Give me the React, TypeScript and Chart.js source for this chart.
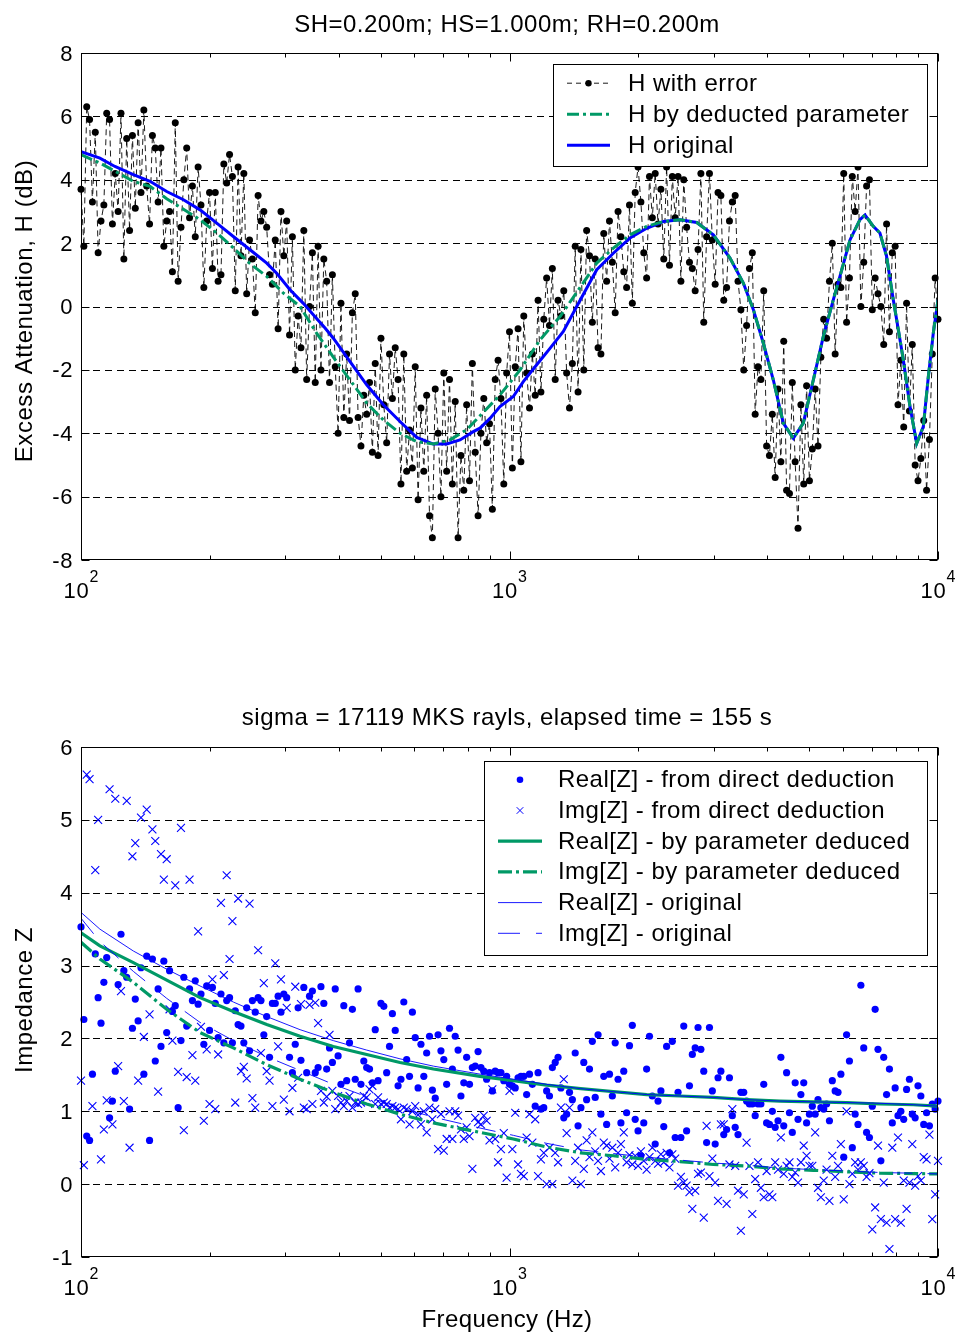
import React, { useEffect, useRef } from 'react';
import { Chart, registerables } from 'chart.js';

Chart.register(...registerables);

// ---------------- DATA ----------------
// Top panel: excess attenuation H (dB) vs frequency
const TOP_Y_TICKS = [-8, -6, -4, -2, 0, 2, 4, 6, 8];
const X_DECADES = [2, 3, 4];

const H_WITH_ERROR = [
  3.7, 1.9, 6.3, 5.9, 3.3, 5.5, 1.7, 2.7, 3.2, 6.1, 5.9, 2.6, 4.2, 3.0, 6.1, 1.5, 5.3, 2.4, 5.4, 3.1, 5.8, 3.6, 6.2, 3.8,
  2.6, 5.4, 5.0, 3.3, 5.0, 1.9, 2.7, 3.0, 1.1, 5.8, 0.8,
  2.5, 4.0, 5.0, 2.8, 3.8, 2.2, 4.4, 3.2, 0.6, 2.7, 3.6,
  1.2, 3.6, 0.8, 1.0, 4.5, 3.9, 4.8, 4.1, 0.5, 4.4,
  1.6, 4.2, 0.4, 2.1, 1.5, -0.2, 3.5, 2.7, 3.0, 2.5, 1.0,
  0.7, 2.1, -0.7, 3.0, 1.6, 2.7, -0.9, 2.2, -2.0, -0.3,
  -1.3, 2.4, -2.3, 0.0, 1.7, -2.4, 1.9, -2.0, 1.5, 0.8, -2.4,
  1.0, -1.9, -4.0, 0.1, -3.5, -1.5, -3.6, -0.2, 0.4, -3.5,
  -4.4, -2.8, -3.4, -2.4, -4.6, -1.8, -4.7, -1.0, -3.1, -4.3, -1.5,
  -2.9, -1.3, -2.3, -5.6, -1.5, -5.2, -3.9, -5.1, -1.9, -6.1,
  -3.2, -5.2, -2.8, -6.6, -7.3, -2.6, -4.0, -6.0, -2.1, -5.2, -2.3,
  -5.6, -3.0, -7.3, -4.7, -5.8, -3.1, -5.5, -1.8, -4.6, -6.6,
  -4.0, -2.9, -4.3, -3.7, -6.4, -2.3, -1.7, -2.9, -5.6, -2.1, -0.8,
  -5.1, -1.9, -0.7, -4.9, -0.3, -2.1, -3.2, -1.5, -2.8, 0.2,
  -2.7, -0.4, 0.9, -0.6, 1.2, -2.3, 0.2, -0.3, 0.5, -2.1, -3.2,
  -1.8, 1.9, -2.7, 1.8, -2.0, 2.4, 1.6, -0.5, 1.5, -1.3,
  -1.5, 2.3, 0.8, 2.7, 1.4, -0.2, 3.0, 2.2, 1.1, 0.6, 3.2,
  0.1, 3.6, 4.4, 3.3, 1.7, 0.9, 4.1, 2.8, 4.2, 2.6,
  3.7, 1.5, 4.4, 1.3, 4.1, 2.8, 4.1, 0.8, 4.0, 2.5, 1.4,
  1.2, 0.5, 1.8, 4.2, -0.5, 2.2, 4.2, 2.1, 0.7, 3.6,
  3.5, 0.2, 0.6, 2.7, 3.3, 3.5, 0.8, -0.1, -2.0, -0.6, 1.2,
  1.7, -3.4, -1.9, -2.3, 0.5, -4.4, -4.7, -3.4, -5.4, -2.6,
  -4.9, -1.1, -5.8, -5.9, -2.4, -4.9, -7.0, -3.1, -5.6, -2.5, -5.5,
  -4.5, -2.6, -4.4, -1.6, -0.4, -1.0, 0.8, 2.0, -1.5, 0.7,
  0.6, 4.2, -0.5, 0.9, 4.1, 3.0, 4.4, 0.0, 1.4, 3.8, 4.0,
  -0.1, 0.9, 0.4, 0.0, -1.2, 2.6, -0.8, 1.7, 1.9, -3.1,
  -1.7, -3.8, 0.1, -3.3, -1.2, -5.0, -5.5, -4.8, -3.6, -5.8, -4.2,
  -1.5, 0.9, -0.4,
];

const H_ORIG_F = [
  100, 110.7, 120, 132.5, 144.9, 158.5, 173.4, 189.6, 207.4, 226.7, 248, 271.3, 286.2, 307.4, 330.2, 351.7, 371.1,
  388, 424.5, 464.2, 507.6, 555.2, 607.4, 664.2, 713.6, 766.4, 823.2, 853.4, 900.5, 950.2, 1020.7, 1077, 1157.5,
  1243, 1335.5, 1435, 1598, 1747, 1911, 2090, 2286, 2500, 2735, 2991, 3270, 3513, 3708, 3912, 4128, 4355, 4596,
  4849, 5117, 5399, 5697, 5904, 6232, 6575, 6755, 7063, 7319, 7586, 7864, 8008, 8299, 8603, 8919, 9242, 9494, 9750, 10000,
];
const H_ORIG = [
  4.89, 4.68, 4.42, 4.16, 3.95, 3.63, 3.37, 3.05, 2.63, 2.21, 1.79, 1.37, 1.05, 0.53, 0.1, -0.32, -0.68,
  -1.0, -1.74, -2.47, -3.1, -3.63, -4.13, -4.34, -4.34, -4.21, -3.95, -3.84, -3.53, -3.16, -2.84, -2.37, -1.84,
  -1.32, -0.79, 0.0, 1.16, 1.68, 2.16, 2.47, 2.68, 2.74, 2.65, 2.26, 1.53, 0.74, -0.1, -1.16, -2.32, -3.68, -4.16,
  -3.68, -2.32, -0.95, 0.21, 0.95, 2.1, 2.74, 2.89, 2.53, 2.32, 1.58, 0.21, -0.42, -1.68, -3.16, -4.32, -3.79, -2.21, -0.84, 0.21,
];

const H_DEDUCED_F = [
  100, 110.7, 132.5, 144.9, 158.5, 173.4, 189.6, 207.4, 226.7, 248, 271.3, 296.8, 324.5, 355, 388, 424.5, 464.2,
  507.6, 555.2, 607.4, 664.2, 726.2, 794.3, 853.4, 950.2, 1059, 1179, 1315, 1466, 1598, 1747, 1911, 2090, 2286, 2500,
  2735, 2991, 3270, 3513, 3708, 3912, 4128, 4355, 4596, 4849, 5117, 5399, 5697, 5904, 6232, 6575, 6755, 7063, 7319,
  7586, 7864, 8008, 8299, 8603, 8919, 9242, 9494, 9750, 10000,
];
const H_DEDUCED = [
  4.79, 4.53, 3.95, 3.79, 3.4, 3.07, 2.74, 2.32, 1.85, 1.35, 0.95, 0.42, 0.0, -0.85, -1.6, -2.32, -3.05,
  -3.58, -4.0, -4.26, -4.34, -4.21, -3.89, -3.45, -2.79, -2.0, -1.05, -0.3, 0.63, 1.37, 1.84, 2.26, 2.53, 2.68, 2.74,
  2.65, 2.26, 1.53, 0.74, -0.1, -1.16, -2.32, -3.68, -4.16, -3.68, -2.32, -0.95, 0.21, 0.95, 2.1, 2.74, 2.89, 2.53, 2.32,
  1.58, 0.21, -0.42, -1.68, -3.16, -4.32, -3.79, -2.21, -0.84, 0.21,
];

// Bottom panel: impedance Z vs frequency
const BOTTOM_Y_TICKS = [-1, 0, 1, 2, 3, 4, 5, 6];

const Z_REAL_DIRECT = [
  3.53, 2.26, 0.66, 0.6, 1.51, 3.16, 2.56, 2.21, 2.77, 3.11, 0.91, 1.14, 1.55, 2.74, 3.43, 2.93, 2.84, 1.03, 2.14, 2.54, 2.24, 2.97, 1.51, 3.13,
  0.6, 3.09, 1.69, 2.68, 1.89, 3.06, 2.08, 2.93, 2.37, 2.45, 1.05,
  1.97, 2.84, 2.17, 2.68, 2.52, 2.79, 2.47, 2.61, 1.92, 2.72, 2.11,
  2.7, 2.48, 2.01, 2.61, 1.94, 2.52, 2.56, 1.94, 2.38, 2.19,
  2.17, 1.94, 2.42, 1.83, 2.52, 2.36, 2.56, 2.52, 2.05, 2.3, 1.74,
  2.48, 2.48, 2.58, 2.36, 2.61, 2.56, 1.74, 1.53, 1.92, 2.42,
  1.7, 2.7, 1.53, 2.58, 2.65, 1.53, 1.6, 2.71, 2.48, 1.58, 1.87,
  1.67, 2.68, 1.76, 1.37, 2.45, 1.42, 1.94, 2.4, 1.44, 2.68,
  1.37, 1.69, 1.6, 1.58, 1.39, 2.12, 1.42, 2.48, 2.44, 1.53, 1.89,
  2.34, 2.11, 1.35, 1.44, 2.5, 1.71, 1.48, 2.36, 2.01, 1.32,
  1.92, 1.48, 1.8, 2.03, 1.29, 1.18, 2.05, 1.83, 1.71, 1.37, 2.14,
  1.58, 2.03, 1.84, 1.21, 1.39, 1.74, 1.37, 1.6, 1.62, 1.82,
  1.6, 1.55, 1.44, 1.53, 1.28, 1.55, 1.53, 1.53, 1.42, 1.48, 1.37,
  1.35, 1.32, 1.46, 1.48, 1.48, 1.23, 1.51, 1.37, 1.07, 1.53,
  1.03, 1.05, 1.28, 1.21, 1.6, 1.67, 1.74, 1.32, 0.91, 0.96, 1.26,
  1.16, 1.8, 0.8, 1.05, 1.67, 1.16, 1.58, 1.96, 1.19, 2.05,
  0.96, 1.48, 0.82, 1.51, 1.21, 1.94, 1.44, 0.84, 1.55, 0.98, 1.9,
  2.18, 0.89, 0.73, 0.39, 0.84, 1.58, 2.03, 1.21, 0.55, 1.14,
  1.28, 0.79, 1.89, 0.43, 1.96, 0.64, 1.26, 0.64, 2.17, 0.73, 1.35,
  1.78, 1.87, 2.15, 1.85, 1.55, 0.57, 2.15, 1.28, 0.55, 1.46,
  1.55, 0.68, 0.75, 1.46, 0.94, 0.78, 0.68, 1.26, 1.26, 1.14, 1.1,
  1.1, 0.94, 1.1, 1.1, 1.37, 0.84, 0.82, 1.0, 0.78, 0.87,
  1.74, 0.8, 1.53, 0.98, 0.71, 1.39, 0.89, 1.23, 1.39, 0.84, 0.96,
  1.07, 0.96, 1.16, 1.05, 1.03, 1.1, 0.87, 1.42, 1.28, 1.26,
  1.51, 0.37, 2.05, 1.69, 0.5, 0.96, 0.82, 2.73, 1.87, 0.71, 0.64,
  1.07, 2.4, 1.85, 0.32, 1.74, 1.23, 1.58, 0.84, 1.32, 0.94,
  1.0, 0.89, 1.3, 1.44, 0.96, 0.91, 1.35, 1.21, 0.82, 0.98, 0.8,
  1.1, 1.03, 1.14,
];

const Z_IMG_DIRECT = [
  1.42, 0.26, 5.62, 5.56, 1.07, 4.31, 5.0, 0.34, 0.75, 1.15, 5.42, 0.82, 5.29, 1.62, 2.65, 1.14, 5.26, 0.5, 4.5, 4.68, 1.42, 5.03, 2.02, 5.14,
  2.33, 4.87, 4.71, 1.27, 4.53, 4.18, 4.46, 2.4, 1.97, 4.1, 1.54,
  4.89, 0.74, 1.47, 4.18, 1.77, 1.42, 3.47, 2.16, 0.87, 1.85, 1.1,
  2.81, 1.03, 1.78, 3.86, 2.87, 4.24, 3.09, 3.61, 1.12, 3.92,
  1.55, 1.61, 1.45, 3.85, 1.18, 1.05, 3.21, 1.8, 2.76, 1.55, 1.42,
  1.07, 3.03, 1.89, 2.81, 1.16, 2.42, 1.0, 1.32, 2.71, 1.46,
  2.47, 1.05, 1.03, 2.46, 1.1, 2.49, 2.21, 1.28, 1.12, 1.2, 2.05,
  1.28, 1.03, 1.21, 1.12, 1.07, 1.14, 1.21, 1.05, 1.12, 1.1,
  1.12, 1.21, 1.19, 1.3, 1.35, 1.1, 1.19, 1.1, 1.12, 1.1, 1.05,
  1.07, 1.05, 1.03, 0.89, 1.05, 1.03, 0.82, 1.0, 1.07, 0.95,
  0.82, 1.0, 0.71, 1.05, 0.89, 1.03, 0.48, 0.96, 0.46, 0.62, 1.0,
  0.62, 1.0, 0.94, 0.75, 0.62, 0.78, 0.66, 0.21, 0.91, 0.85,
  0.82, 0.94, 0.87, 0.6, 1.3, 0.62, 0.3, 0.48, 0.7, 0.09, 1.28,
  0.48, 0.98, 0.27, 0.14, 0.11, 0.64, 0.96, 0.57, 0.89, 0.11,
  0.34, 0.43, 0.0, 0.5, 0.0, 0.43, 0.3, 1.05, 1.44, 0.7, 1.05,
  0.05, 0.32, 0.5, 0.0, 0.21, 0.6, 0.37, 0.71, 0.45, 0.32,
  0.18, 0.57, 0.53, 0.35, 0.5, 0.23, 0.43, 0.55, 0.71, 0.3, 0.4,
  0.27, 0.39, 0.25, 0.45, 0.32, 0.2, 0.37, 0.5, 0.32, 0.28,
  0.41, 0.3, 0.43, 0.23, 0.41, 0.35, -0.02, 0.1, 0.02, -0.02, -0.11,
  -0.34, -0.09, 0.14, 0.16, -0.46, 0.8, 0.11, 0.35, 0.02, -0.23,
  0.82, 0.82, -0.27, 0.27, 1.03, 0.25, -0.09, -0.64, -0.14, 0.57, 0.25,
  -0.41, 0.07, 0.3, -0.05, -0.18, 0.18, -0.14, -0.18, 0.3, 0.2,
  0.64, 0.14, 0.25, 0.3, 0.1, 0.16, 0.02, 0.3, 0.53, 0.39, 0.25,
  0.25, 0.71, -0.05, -0.18, 0.05, 0.2, -0.23, 0.39, 0.1, 0.25,
  0.55, -0.21, 1.0, 0.0, 0.14, 0.3, 0.2, 0.3, 0.25, 0.1, 0.15,
  -0.62, -0.32, 0.53, -0.48, 0.02, -0.53, -0.89, 0.5, -0.48, 0.64,
  -0.53, 0.05, -0.34, 0.02, 0.55, -0.02, 0.11, 0.05, 0.37, 0.34, 0.68,
  -0.48, -0.14, 0.32,
];

const Z_CURVE_F = [100, 110.7, 132.5, 158.5, 189.6, 226.7, 271.3, 324.5, 388, 464.2, 555.2, 664.2, 853.4, 1021, 1221, 1466, 1747, 2090, 2500, 2991, 3578, 4280, 5119, 6121, 7319, 8758, 10000];
const Z_REAL_PARAM = [3.45, 3.27, 3.04, 2.8, 2.56, 2.37, 2.19, 2.03, 1.89, 1.78, 1.67, 1.58, 1.48, 1.42, 1.36, 1.31, 1.27, 1.23, 1.21, 1.19, 1.16, 1.14, 1.13, 1.12, 1.1, 1.09, 1.07];
const Z_IMG_PARAM = [3.32, 3.09, 2.77, 2.4, 2.08, 1.87, 1.64, 1.44, 1.26, 1.1, 0.96, 0.84, 0.71, 0.62, 0.51, 0.43, 0.39, 0.34, 0.31, 0.27, 0.25, 0.21, 0.19, 0.17, 0.15, 0.145, 0.14];
const Z_REAL_ORIG = [3.73, 3.5, 3.2, 2.95, 2.72, 2.5, 2.3, 2.12, 1.97, 1.84, 1.72, 1.62, 1.51, 1.44, 1.37, 1.31, 1.27, 1.23, 1.21, 1.19, 1.16, 1.14, 1.13, 1.12, 1.11, 1.09, 1.07];
const Z_IMG_ORIG = [3.65, 3.33, 2.92, 2.55, 2.22, 1.97, 1.75, 1.56, 1.37, 1.2, 1.05, 0.92, 0.77, 0.67, 0.56, 0.47, 0.42, 0.37, 0.33, 0.29, 0.26, 0.22, 0.2, 0.18, 0.16, 0.15, 0.14];

// ---------------- helpers ----------------
const FONT = '"Liberation Sans", Arial, Helvetica, sans-serif';
const BLUE = '#0000ff';
const GREEN = '#009966';
const W = 959;

function logGrid(n: number): number[] {
  const out: number[] = [];
  for (let i = 0; i < n; i++) out.push(100 * Math.pow(10, (2 * i) / (n - 1)));
  return out;
}
function pairs(xs: number[], ys: number[]) {
  return ys.map((y, i) => ({ x: xs[i], y }));
}

function text(ctx: any, s: string, x: number, y: number, size: number, align: string = 'left', spacing = 0.5) {
  ctx.save();
  ctx.font = `${size}px ${FONT}`;
  ctx.fillStyle = '#000';
  ctx.textBaseline = 'alphabetic';
  ctx.textAlign = align;
  try { ctx.letterSpacing = `${spacing}px`; } catch (e) {}
  ctx.fillText(s, x, y);
  ctx.restore();
}

type LegendItem = { label: string; color: string; width: number; dash: number[]; line: boolean; marker: string; r: number };

function makeAxesPlugin(cfg: any) {
  return {
    id: 'matlabAxes',
    beforeDatasetsDraw(chart: any) {
      const { ctx, chartArea: a, scales } = chart;
      ctx.save();
      ctx.strokeStyle = '#000';
      ctx.lineWidth = 1;
      ctx.setLineDash([7, 5]);
      for (const v of cfg.yTicks) {
        if (v === cfg.yTicks[0] || v === cfg.yTicks[cfg.yTicks.length - 1]) continue;
        const py = Math.round(scales.y.getPixelForValue(v)) + 0.5;
        ctx.beginPath();
        ctx.moveTo(a.left, py);
        ctx.lineTo(a.right, py);
        ctx.stroke();
      }
      ctx.restore();
    },
    afterDatasetsDraw(chart: any) {
      const { ctx, chartArea: a, scales } = chart;
      const xs = scales.x;
      const ys = scales.y;
      // legend
      const L = cfg.legend;
      ctx.save();
      ctx.fillStyle = '#fff';
      ctx.fillRect(L.x, L.y, L.w, L.h);
      ctx.strokeStyle = '#000';
      ctx.lineWidth = 1;
      ctx.setLineDash([]);
      ctx.strokeRect(L.x + 0.5, L.y + 0.5, L.w, L.h);
      L.items.forEach((it: LegendItem, k: number) => {
        const base = L.base0 + k * L.step;
        const cy = base - 7.5;
        if (it.line) {
          ctx.save();
          ctx.strokeStyle = it.color;
          ctx.lineWidth = it.width;
          ctx.setLineDash(it.dash);
          ctx.beginPath();
          ctx.moveTo(L.sx0, cy);
          ctx.lineTo(L.sx1, cy);
          ctx.stroke();
          ctx.restore();
        }
        const mx = (L.sx0 + L.sx1) / 2;
        if (it.marker === 'dot') {
          ctx.save();
          ctx.fillStyle = it.color;
          ctx.beginPath();
          ctx.arc(mx, cy, it.r, 0, Math.PI * 2);
          ctx.fill();
          ctx.restore();
        } else if (it.marker === 'cross') {
          ctx.save();
          ctx.strokeStyle = it.color;
          ctx.lineWidth = 1;
          ctx.setLineDash([]);
          ctx.beginPath();
          ctx.moveTo(mx - it.r, cy - it.r);
          ctx.lineTo(mx + it.r, cy + it.r);
          ctx.moveTo(mx - it.r, cy + it.r);
          ctx.lineTo(mx + it.r, cy - it.r);
          ctx.stroke();
          ctx.restore();
        }
        text(ctx, it.label, L.tx, base, 24, 'left', 0.45);
      });
      ctx.restore();

      // box
      ctx.save();
      ctx.strokeStyle = '#000';
      ctx.lineWidth = 1;
      ctx.setLineDash([]);
      const l = Math.round(a.left) + 0.5;
      const r = Math.round(a.right) - 0.5;
      const t = Math.round(a.top) + 0.5;
      const b = Math.round(a.bottom) - 0.5;
      ctx.strokeRect(l, t, r - l, b - t);
      // x ticks
      ctx.beginPath();
      for (const d of X_DECADES) {
        for (let m = 1; m <= 9; m++) {
          const f = m * Math.pow(10, d);
          if (f > 10000) break;
          if (d === 4 && m > 1) break;
          const px = Math.round(xs.getPixelForValue(f)) + 0.5;
          const len = m === 1 ? 8 : 4;
          ctx.moveTo(px, b);
          ctx.lineTo(px, b - len);
          ctx.moveTo(px, t);
          ctx.lineTo(px, t + len);
        }
      }
      // y ticks
      for (const v of cfg.yTicks) {
        const py = Math.round(ys.getPixelForValue(v)) + 0.5;
        ctx.moveTo(l, py);
        ctx.lineTo(l + 8, py);
        ctx.moveTo(r, py);
        ctx.lineTo(r - 8, py);
      }
      ctx.stroke();
      ctx.restore();

      // y tick labels
      for (const v of cfg.yTicks) {
        const py = ys.getPixelForValue(v);
        text(ctx, String(v), a.left - 8, py + 7.5, 22, 'right', 0.6);
      }
      // x tick labels 10^d
      for (const d of X_DECADES) {
        const px = xs.getPixelForValue(Math.pow(10, d));
        ctx.save();
        ctx.font = `22px ${FONT}`;
        const w1 = ctx.measureText('10').width + 1.5;
        ctx.font = `16px ${FONT}`;
        const w2 = ctx.measureText(String(d)).width;
        ctx.restore();
        const x0 = px - (w1 + w2) / 2;
        text(ctx, '10', x0, a.bottom + 38, 22, 'left', 0.8);
        text(ctx, String(d), x0 + w1, a.bottom + 22, 16, 'left', 0);
      }
      // title
      text(ctx, cfg.title, cfg.titleX, cfg.titleY, 24, 'center', 0.5);
      if (cfg.xlabel) text(ctx, cfg.xlabel, cfg.titleX, cfg.xlabelY, 24, 'center', 0.4);
      // y label
      ctx.save();
      ctx.translate(32, cfg.ylabelY);
      ctx.rotate(-Math.PI / 2);
      text(ctx, cfg.ylabel, 0, 0, 24, 'center', 0.55);
      ctx.restore();
    },
  };
}

function baseOptions(yMin: number, yMax: number, padTop: number, xh: number) {
  return {
    responsive: false,
    maintainAspectRatio: false,
    devicePixelRatio: 1,
    animation: false,
    events: [],
    layout: { padding: { top: padTop, right: W - 938, left: 0, bottom: 0 } },
    plugins: { legend: { display: false }, tooltip: { enabled: false }, title: { display: false } },
    scales: {
      x: {
        type: 'logarithmic',
        min: 100,
        max: 10000,
        ticks: { display: false },
        grid: { display: false },
        border: { display: false },
        afterFit: (s: any) => { s.height = xh; },
      },
      y: {
        type: 'linear',
        min: yMin,
        max: yMax,
        ticks: { display: false },
        grid: { display: false },
        border: { display: false },
        afterFit: (s: any) => { s.width = 81; },
      },
    },
  };
}

function TopChart() {
  const ref = useRef<HTMLCanvasElement>(null);
  useEffect(() => {
    if (!ref.current) return;
    const noisyF = logGrid(H_WITH_ERROR.length);
    const dsNoisy = {
      label: 'H with error',
      data: pairs(noisyF, H_WITH_ERROR),
      borderColor: '#000',
      borderWidth: 0.9,
      borderDash: [6, 4],
      pointRadius: 3.5,
      pointBackgroundColor: '#000',
      pointBorderWidth: 0,
      tension: 0,
      clip: false,
    };
    const dsDed = {
      label: 'H by deducted parameter',
      data: pairs(H_DEDUCED_F, H_DEDUCED),
      borderColor: GREEN,
      borderWidth: 3,
      borderDash: [12, 4, 3, 4],
      pointRadius: 0,
      tension: 0,
    };
    const dsOrig = {
      label: 'H original',
      data: pairs(H_ORIG_F, H_ORIG),
      borderColor: BLUE,
      borderWidth: 3,
      pointRadius: 0,
      tension: 0,
    };
    const cfg = {
      yTicks: TOP_Y_TICKS,
      title: 'SH=0.200m; HS=1.000m; RH=0.200m',
      titleX: 507,
      titleY: 32,
      ylabel: 'Excess Attenuation, H (dB)',
      ylabelY: 311,
      legend: {
        x: 553, y: 64, w: 374, h: 102, base0: 90.7, step: 31, sx0: 567, sx1: 610, tx: 628,
        items: [
          { label: dsNoisy.label, color: '#000', width: 0.9, dash: [5, 4], line: true, marker: 'dot', r: 3.2 },
          { label: dsDed.label, color: GREEN, width: 3, dash: [12, 4, 3, 4], line: true, marker: 'none', r: 0 },
          { label: dsOrig.label, color: BLUE, width: 3, dash: [], line: true, marker: 'none', r: 0 },
        ],
      },
    };
    const chart = new Chart(ref.current, {
      type: 'line',
      data: { datasets: [dsDed, dsOrig, dsNoisy] as any },
      options: baseOptions(-8, 8, 53, 80) as any,
      plugins: [makeAxesPlugin(cfg)],
    });
    return () => chart.destroy();
  }, []);
  return <canvas ref={ref} width={W} height={640} style={{ position: 'absolute', left: 0, top: 0, width: W, height: 640 }} />;
}

function BottomChart() {
  const ref = useRef<HTMLCanvasElement>(null);
  useEffect(() => {
    if (!ref.current) return;
    const realF = logGrid(Z_REAL_DIRECT.length);
    const imgF = logGrid(Z_IMG_DIRECT.length);
    const dsRealDir = {
      label: 'Real[Z] - from direct deduction',
      data: pairs(realF, Z_REAL_DIRECT),
      showLine: false,
      pointRadius: 3.6,
      pointBackgroundColor: BLUE,
      pointBorderWidth: 0,
      clip: false,
    };
    const dsImgDir = {
      label: 'Img[Z] - from direct deduction',
      data: pairs(imgF, Z_IMG_DIRECT),
      showLine: false,
      pointStyle: 'crossRot',
      pointRadius: 5.6,
      pointBorderColor: BLUE,
      pointBorderWidth: 1.1,
      clip: false,
    };
    const dsRealPar = {
      label: 'Real[Z] - by parameter deduced',
      data: pairs(Z_CURVE_F, Z_REAL_PARAM),
      borderColor: GREEN,
      borderWidth: 3.2,
      pointRadius: 0,
      tension: 0,
    };
    const dsImgPar = {
      label: 'Img[Z] - by parameter deduced',
      data: pairs(Z_CURVE_F, Z_IMG_PARAM),
      borderColor: GREEN,
      borderWidth: 3.2,
      borderDash: [14, 4, 3, 4],
      pointRadius: 0,
      tension: 0,
    };
    const dsRealOrig = {
      label: 'Real[Z] - original',
      data: pairs(Z_CURVE_F, Z_REAL_ORIG),
      borderColor: BLUE,
      borderWidth: 0.9,
      pointRadius: 0,
      tension: 0,
    };
    const dsImgOrig = {
      label: 'Img[Z] - original',
      data: pairs(Z_CURVE_F, Z_IMG_ORIG),
      borderColor: BLUE,
      borderWidth: 0.9,
      borderDash: [20, 15],
      pointRadius: 0,
      tension: 0,
    };
    const off = 640;
    const cfg = {
      yTicks: BOTTOM_Y_TICKS,
      title: 'sigma = 17119 MKS rayls, elapsed time = 155 s',
      titleX: 507,
      titleY: 725 - off,
      xlabel: 'Frequency (Hz)',
      xlabelY: 1327 - off,
      ylabel: 'Impedance Z',
      ylabelY: 1000 - off,
      legend: {
        x: 484, y: 761 - off, w: 443, h: 194, base0: 787.3 - off, step: 30.7, sx0: 498, sx1: 542, tx: 558,
        items: [
          { label: dsRealDir.label, color: BLUE, width: 0, dash: [], line: false, marker: 'dot', r: 3.3 },
          { label: dsImgDir.label, color: BLUE, width: 0, dash: [], line: false, marker: 'cross', r: 3.3 },
          { label: dsRealPar.label, color: GREEN, width: 3.2, dash: [], line: true, marker: 'none', r: 0 },
          { label: dsImgPar.label, color: GREEN, width: 3.2, dash: [14, 4, 3, 4], line: true, marker: 'none', r: 0 },
          { label: dsRealOrig.label, color: BLUE, width: 0.9, dash: [], line: true, marker: 'none', r: 0 },
          { label: dsImgOrig.label, color: BLUE, width: 0.9, dash: [22, 16], line: true, marker: 'none', r: 0 },
        ],
      },
    };
    const chart = new Chart(ref.current, {
      type: 'line',
      data: { datasets: [dsRealOrig, dsImgOrig, dsRealPar, dsImgPar, dsRealDir, dsImgDir] as any },
      options: baseOptions(-1, 6, 107, 77) as any,
      plugins: [makeAxesPlugin(cfg)],
    });
    return () => chart.destroy();
  }, []);
  return <canvas ref={ref} width={W} height={694} style={{ position: 'absolute', left: 0, top: 640, width: W, height: 694 }} />;
}

export default function App() {
  return (
    <div style={{ position: 'absolute', left: 0, top: 0, width: W, height: 1334, background: '#fff', overflow: 'hidden' }}>
      <TopChart />
      <BottomChart />
    </div>
  );
}
